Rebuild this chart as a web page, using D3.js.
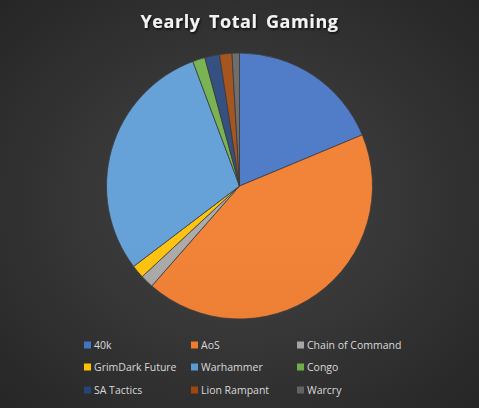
<!DOCTYPE html>
<html><head><meta charset="utf-8">
<script src="https://cdn.jsdelivr.net/npm/d3@7"></script>
<style>html,body{margin:0;padding:0;background:#333;}svg{display:block;}</style>
</head><body>
<svg id="c" width="479" height="408"></svg>
<script>
const categories = ["40k","AoS","Chain of Command","GrimDark Future","Warhammer","Congo","SA Tactics","Lion Rampant","Warcry"];
const values = [18.7, 42.7, 1.6, 1.6, 29.6, 1.5, 1.8, 1.5, 0.9];
const colors = ["#4472C4","#F07B2A","#A5A5A5","#FFC000","#5B9BD5","#70AD47","#264478","#9E480E","#636363"];
const title = "Yearly Total Gaming";

const W = 479, H = 408;
const svg = d3.select("#c");
const defs = svg.append("defs");
const bg = defs.append("radialGradient").attr("id","bg").attr("cx","50%").attr("cy","50%").attr("r","70%");
bg.append("stop").attr("offset","0%").attr("stop-color","#454545");
bg.append("stop").attr("offset","100%").attr("stop-color","#262626");
svg.append("rect").attr("width",W).attr("height",H).attr("fill","url(#bg)");

const sh = defs.append("filter").attr("id","ts").attr("x","-10%").attr("y","-30%").attr("width","120%").attr("height","160%");
sh.append("feDropShadow").attr("dx",1).attr("dy",1.5).attr("stdDeviation",1).attr("flood-color","#000").attr("flood-opacity",0.8);

colors.forEach((c,i)=>{
  const g = defs.append("linearGradient").attr("id","g"+i)
    .attr("gradientUnits","userSpaceOnUse").attr("x1",0).attr("y1",53).attr("x2",0).attr("y2",319);
  g.append("stop").attr("offset","0%").attr("stop-color",d3.interpolateRgb(c,"#fff")(0.07));
  g.append("stop").attr("offset","100%").attr("stop-color",d3.interpolateRgb(c,"#000")(0.05));
});

svg.append("text").attr("x",239.5).attr("y",28).attr("text-anchor","middle")
  .attr("font-family","'Open Sans', sans-serif").attr("font-weight","bold").attr("font-size",18)
  .attr("letter-spacing",0.6).attr("word-spacing",3)
  .attr("fill","#f2f2f2").attr("filter","url(#ts)").text(title);

const cx = 239.5, cy = 186, r = 133;
const pie = d3.pie().sort(null).value(d=>d.v);
const arc = d3.arc().innerRadius(0).outerRadius(r);
const data = categories.map((k,i)=>({k, v: values[i], i}));
const g = svg.append("g").attr("transform",`translate(${cx},${cy})`);
g.selectAll("path").data(pie(data)).join("path")
  .attr("d",arc).attr("fill",d=>`url(#g${d.data.i})`)
  .attr("stroke","#3a3a3a").attr("stroke-width",0.75);

const colX = [84, 191, 297];
const rowY = [345, 367, 390];
const leg = svg.append("g");
categories.forEach((k,i)=>{
  const x = colX[i%3], y = rowY[Math.floor(i/3)];
  leg.append("rect").attr("x",x).attr("y",y-3.5).attr("width",7).attr("height",7).attr("fill",colors[i]);
  leg.append("text").attr("x",x+10).attr("y",y).attr("dy","0.35em")
    .attr("font-family","'Open Sans', sans-serif").attr("font-size",10.5)
    .attr("fill","#d9d9d9").text(k);
});
</script>
</body></html>
